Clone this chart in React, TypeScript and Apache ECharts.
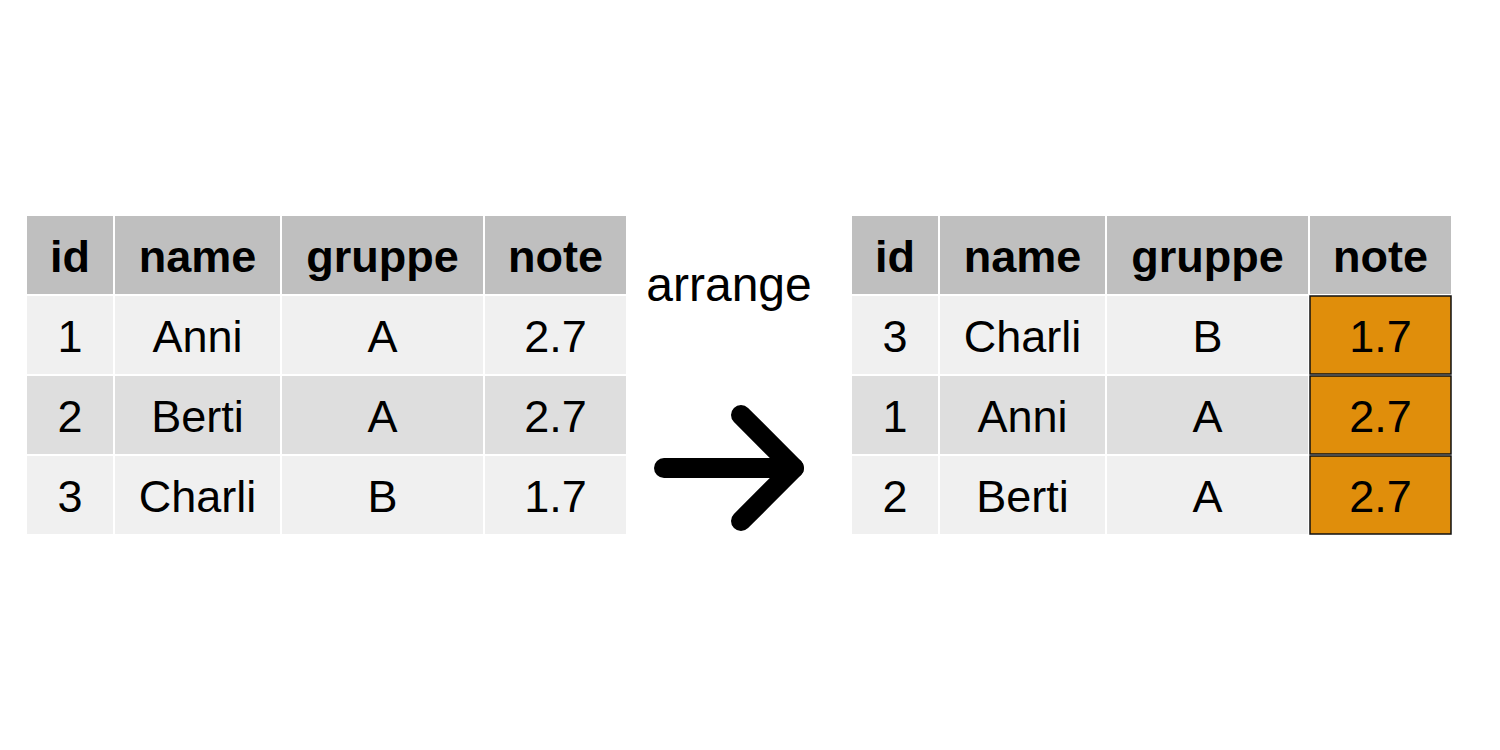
import * as echarts from "echarts";
import { useEffect, useRef } from "react";

const columns = ["id", "name", "gruppe", "note"];

const leftId = ["1", "2", "3"];
const leftName = ["Anni", "Berti", "Charli"];
const leftGruppe = ["A", "A", "B"];
const leftNote = ["2.7", "2.7", "1.7"];

const rightId = ["3", "1", "2"];
const rightName = ["Charli", "Anni", "Berti"];
const rightGruppe = ["B", "A", "A"];
const rightNote = ["1.7", "2.7", "2.7"];

const verb = "arrange";

// column widths in axis units (px at this size)
const colWidths = [88, 167, 203, 143];
const tableWidth = colWidths.reduce((a, b) => a + b, 0);

const FONT = "'Liberation Sans', Arial, Helvetica, sans-serif";
const HEADER_FILL = "#bfbfbf";
const ROW_FILLS = ["#f0f0f0", "#dedede", "#f0f0f0"];
const HIGHLIGHT = "#e08e0b";

interface Cell {
  x0: number;
  x1: number;
  row: number;
  text: string;
  header: boolean;
  highlight: boolean;
}

function buildCells(cols: string[][], highlightCol: number): Cell[] {
  const cells: Cell[] = [];
  let x = 0;
  colWidths.forEach((w, c) => {
    cells.push({ x0: x, x1: x + w, row: 0, text: columns[c], header: true, highlight: false });
    cols[c].forEach((t, r) => {
      cells.push({ x0: x, x1: x + w, row: r + 1, text: t, header: false, highlight: c === highlightCol });
    });
    x += w;
  });
  return cells;
}

const leftCells = buildCells([leftId, leftName, leftGruppe, leftNote], -1);
const rightCells = buildCells([rightId, rightName, rightGruppe, rightNote], 3);

function tableSeries(cells: Cell[], idx: number) {
  return {
    type: "custom",
    xAxisIndex: idx,
    yAxisIndex: idx,
    silent: true,
    data: cells.map((c) => [c.x0, c.x1, c.row]),
    renderItem: (params: any, api: any) => {
      const cell = cells[params.dataIndex];
      const p0 = api.coord([api.value(0), api.value(2)]);
      const p1 = api.coord([api.value(1), api.value(2) + 1]);
      const w = p1[0] - p0[0] - 2;
      const h = p1[1] - p0[1] - 2;
      const fill = cell.header ? HEADER_FILL : cell.highlight ? HIGHLIGHT : ROW_FILLS[cell.row - 1];
      return {
        type: "group",
        children: [
          {
            type: "rect",
            shape: { x: p0[0], y: p0[1], width: w, height: h },
            style: cell.highlight
              ? { fill, stroke: "#111", lineWidth: 1.5 }
              : { fill },
          },
          {
            type: "text",
            style: {
              x: p0[0] + w / 2,
              y: p0[1] + h / 2 + 1,
              text: cell.text,
              fill: "#000",
              font: `${cell.header ? "bold " : ""}45px ${FONT}`,
              align: "center",
              verticalAlign: "middle",
            },
          },
        ],
      };
    },
  };
}

export default function App() {
  const chartRef = useRef<HTMLDivElement>(null);

  useEffect(() => {
    document.body.style.margin = "0";
    if (!chartRef.current) return;
    const chart = echarts.init(chartRef.current, undefined, { renderer: "svg" });

    const grid = [
      { left: 27, top: 216, width: tableWidth, height: 320 },
      { left: 852, top: 216, width: tableWidth, height: 320 },
    ];
    const axisX = [0, 1].map((i) => ({
      type: "value",
      gridIndex: i,
      min: 0,
      max: tableWidth,
      show: false,
    }));
    const axisY = [0, 1].map((i) => ({
      type: "value",
      gridIndex: i,
      min: 0,
      max: 4,
      inverse: true,
      show: false,
    }));

    const option: any = {
      animation: false,
      backgroundColor: "#ffffff",
      grid,
      xAxis: axisX,
      yAxis: axisY,
      series: [tableSeries(leftCells, 0), tableSeries(rightCells, 1)],
      graphic: [
        {
          type: "text",
          style: {
            x: 729,
            y: 284,
            text: verb,
            fill: "#000",
            font: `48px ${FONT}`,
            align: "center",
            verticalAlign: "middle",
          },
        },
        {
          type: "line",
          shape: { x1: 664, y1: 468, x2: 794, y2: 468 },
          style: { stroke: "#000", lineWidth: 20, lineCap: "round" },
        },
        {
          type: "polyline",
          shape: {
            points: [
              [741, 415],
              [794, 468],
              [741, 521],
            ],
          },
          style: { stroke: "#000", fill: null, lineWidth: 20, lineCap: "round", lineJoin: "round" },
        },
      ],
    };

    chart.setOption(option);
    return () => {
      chart.dispose();
    };
  }, []);

  return <div ref={chartRef} style={{ width: "1500px", height: "750px" }} />;
}
